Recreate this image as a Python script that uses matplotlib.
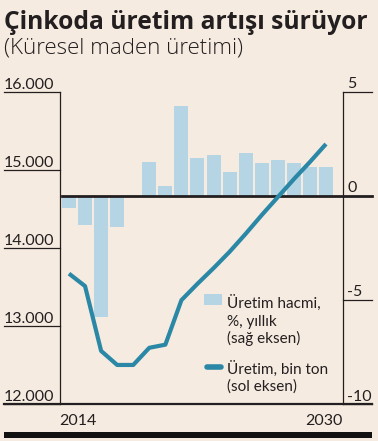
import matplotlib
matplotlib.use("Agg")
from matplotlib import pyplot as plt
from matplotlib import transforms
from matplotlib.patches import Rectangle
from matplotlib.lines import Line2D

# data
years = list(range(2014, 2031))
growth_pct = [-0.6, -1.4, -5.8, -1.5, 0.0, 1.6, 0.47, 4.3, 1.8, 1.95,
              1.14, 2.07, 1.57, 1.72, 1.57, 1.38, 1.38]
output_kt = [13670, 13510, 12680, 12500, 12500, 12720, 12760, 13330, 13540,
             13740, 13950, 14180, 14420, 14650, 14880, 15100, 15330]
left_ticks = [12000, 13000, 14000, 15000, 16000]
right_ticks = [-10, -5, 0, 5]

title = "Çinkoda üretim artışı sürüyor"
subtitle = "(Küresel maden üretimi)"
legend_bar = ["Üretim hacmi,", "%, yıllık", "(sağ eksen)"]
legend_line = ["Üretim, bin ton", "(sol eksen)"]

BG = "#f6ebe0"
INK = "#231f20"
BAR = "#b5d4e4"
LINE = "#2a88a6"
FONT = "Lato"

W, H = 378, 441


def fx(px):
    return px / W


def fy(py):
    return 1 - py / H


fig = plt.figure(figsize=(W / 100, H / 100), dpi=100, facecolor=BG)

# plot box in pixels: left spine 59.5, right spine 342.7, top 91.7, bottom 404
pos = [fx(59.5), fy(404), fx(342.7) - fx(59.5), (404 - 91.7) / H]
ax_bar = fig.add_axes(pos)
ax_line = fig.add_axes(pos)
ax_line.patch.set_visible(False)
ax_bar.set_facecolor(BG)

for a in (ax_bar, ax_line):
    a.set_xlim(2013.41, 2031.04)
    a.set_xticks([])
    a.set_yticks([])
    for s in a.spines.values():
        s.set_visible(False)

ax_bar.set_ylim(-10, 5)
ax_line.set_ylim(12000, 16000)

ax_bar.bar(years, growth_pct, width=0.87, color=BAR, zorder=1)
ax_line.plot(years, output_kt, color=LINE, lw=3, solid_capstyle="butt",
             solid_joinstyle="round", zorder=3)

x_far_left = (4 - 59.5) / (342.7 - 59.5)
x_far_right = (372 - 59.5) / (342.7 - 59.5)

# zero line
ax_bar.plot([(62 - 59.5) / 283.2, x_far_right], [0, 0], color=INK, lw=2,
            transform=ax_bar.get_yaxis_transform(), clip_on=False, zorder=2)

# side spines
ax_line.plot([0, 0], [0, 1], color=INK, lw=0.9, transform=ax_line.transAxes,
             clip_on=False)
ax_line.plot([1, 1], [0, 1], color=INK, lw=0.9, transform=ax_line.transAxes,
             clip_on=False)

# left ticks with labels sitting on top
ltrans = ax_line.get_yaxis_transform()
for v in left_ticks:
    ax_line.plot([x_far_left, 0], [v, v], color=INK, lw=0.9,
                 transform=ltrans, clip_on=False)
    ax_line.annotate(f"{v:,}".replace(",", "."), (x_far_left, v),
                     xycoords=ltrans, xytext=(0, 2.2),
                     textcoords="offset points", ha="left", va="baseline",
                     fontsize=11.5, family=FONT, color=INK)

# right ticks
rtrans = ax_bar.get_yaxis_transform()
for v in right_ticks:
    if v != 0:
        ax_bar.plot([1, x_far_right], [v, v], color=INK, lw=0.9,
                    transform=rtrans, clip_on=False)
    ax_bar.annotate(str(v), (1 + 4.5 / 283.2, v), xycoords=rtrans,
                    xytext=(0, 2.5), textcoords="offset points",
                    ha="left", va="baseline", fontsize=11.5, family=FONT,
                    color=INK)

# bottom axis line
ax_line.plot([x_far_left, x_far_right], [0, 0], color=INK, lw=1.6,
             transform=ax_line.transAxes, clip_on=False)

# year labels
year_trans = transforms.blended_transform_factory(ax_line.transAxes, fig.transFigure)
ax_line.text(0, fy(425), str(years[0]), ha="left", va="baseline",
             transform=year_trans, fontsize=11.5, family=FONT, color=INK)
ax_line.text(1, fy(425), str(years[-1]), ha="right", va="baseline",
             transform=year_trans, fontsize=11.5, family=FONT, color=INK)

# bottom rule
fig.add_artist(Rectangle((fx(4), fy(438)), fx(372) - fx(4), (438 - 431.7) / H,
                         transform=fig.transFigure, facecolor="#111111",
                         edgecolor="none"))

# titles
fig.text(fx(4), fy(29.3), title, ha="left", va="baseline", fontsize=17.7,
         fontweight="bold", family="Open Sans", color=INK)
fig.text(fx(4), fy(53.3), subtitle, ha="left", va="baseline", fontsize=16,
         fontweight="light", family="Open Sans", color=INK)

# legend drawn by hand
fig.add_artist(Rectangle((fx(204), fy(305)), fx(222) - fx(204), 11 / H,
                         transform=fig.transFigure, facecolor=BAR,
                         edgecolor="none"))
for i, s in enumerate(legend_bar):
    fig.text(fx(227), fy(308.3 + i * 17.5), s, ha="left", va="baseline",
             fontsize=11, family=FONT, color=INK)
fig.add_artist(Line2D([fx(206.5), fx(220.5)], [fy(367), fy(367)], lw=4,
                      color=LINE, solid_capstyle="round",
                      transform=fig.transFigure))
for i, s in enumerate(legend_line):
    fig.text(fx(227), fy(373.5 + i * 17.5), s, ha="left", va="baseline",
             fontsize=11, family=FONT, color=INK)

fig.savefig("out.png", dpi=100, facecolor=BG)
